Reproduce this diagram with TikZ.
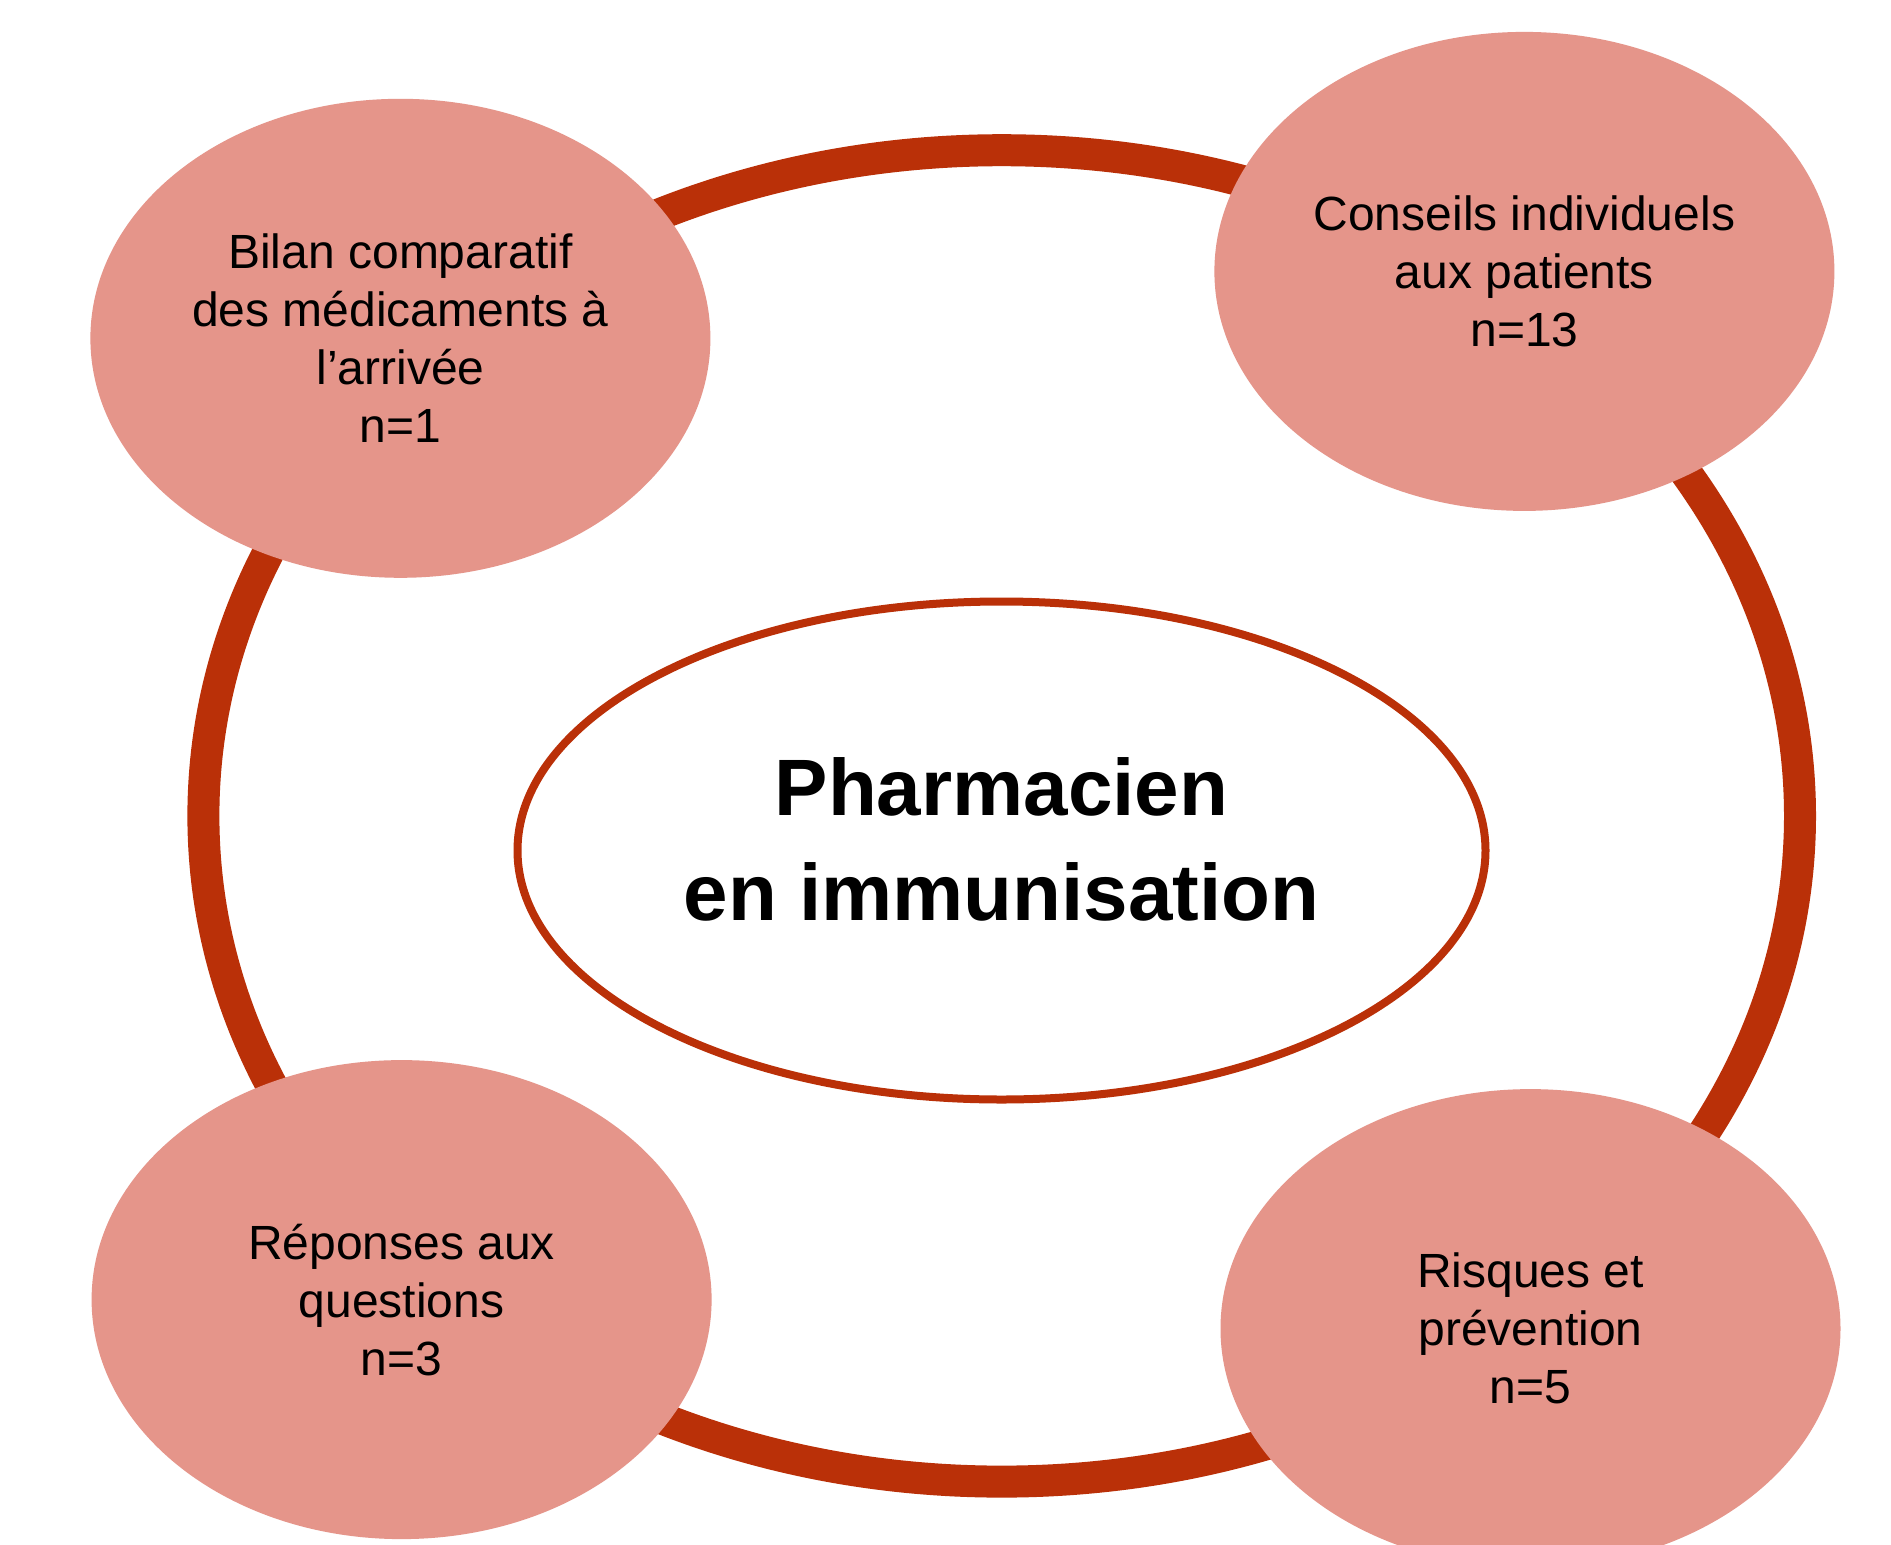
\documentclass[tikz,border=0pt]{standalone}
\usepackage{fontspec}
\setmainfont{Liberation Sans}
\usetikzlibrary{shapes.geometric}
\definecolor{ringred}{RGB}{186,48,8}
\definecolor{bubblefill}{RGB}{229,149,138}
\begin{document}
\begin{tikzpicture}[x=1pt,y=-1pt,
  bubble/.style={ellipse, fill=bubblefill, minimum width=620pt, minimum height=479pt, inner sep=0pt, align=center, font=\fontsize{48}{58}\selectfont},
  core/.style={ellipse, draw=ringred, line width=8pt, fill=white, minimum width=968pt, minimum height=498pt, inner sep=0pt},
  coretext/.style={align=center, inner sep=0pt, font=\bfseries\fontsize{80}{105}\selectfont},
  ring/.style={draw=ringred, line width=32pt}]
\clip (0,0) rectangle (1891,1545);
\fill[white] (0,0) rectangle (1891,1545);
\draw[ring] (1001.7,815.9) ellipse [x radius=798.3, y radius=665.7];
\node[core] (core) at (1001.5,850.5) {};
\node[coretext] (title) at (1001.5,839) {Pharmacien\\en immunisation};
\node[bubble] (bilan) at (400.4,338.3) {Bilan comparatif\\des médicaments à\\l’arrivée\\n=1};
\node[bubble] (conseils) at (1524.4,271.4) {Conseils individuels\\aux patients\\n=13};
\node[bubble] (reponses) at (401.6,1299.6) {Réponses aux\\questions\\n=3};
\node[bubble] (risques) at (1530.5,1328.6) {Risques et\\prévention\\n=5};
\end{tikzpicture}
\end{document}
